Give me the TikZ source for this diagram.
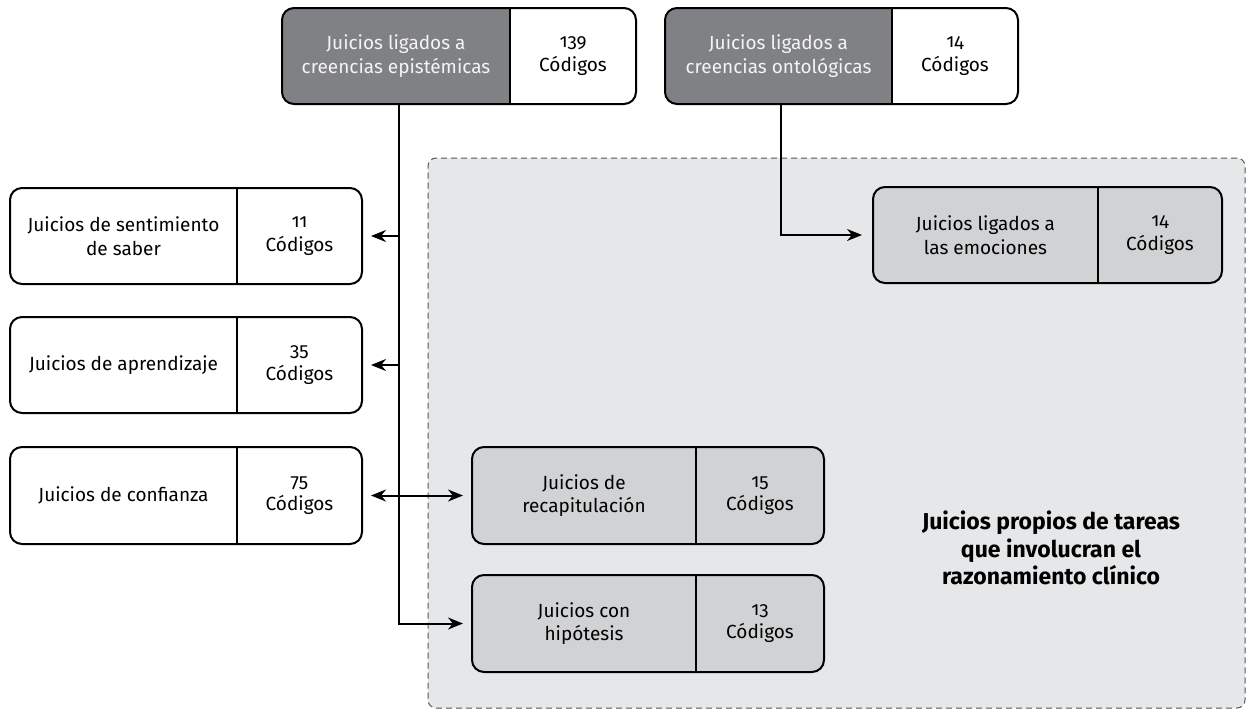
\documentclass[tikz,border=0pt]{standalone}
\usepackage{fontspec}
\setmainfont{Fira Sans}[Numbers=OldStyle]
\usetikzlibrary{arrows.meta,calc,fit}
\definecolor{darkpart}{HTML}{808184}
\definecolor{midpart}{HTML}{D1D2D4}
\definecolor{regionfill}{HTML}{E6E7E8}
\definecolor{regionline}{HTML}{555555}
\definecolor{lighttext}{HTML}{F4F4F4}
\tikzset{
  lpart/.style={fill=white},
  rpart/.style={fill=white},
  ltext/.style={text=black},
  outline/.style={draw=black, line width=2pt, rounded corners=12pt},
  divider/.style={draw=black, line width=1.8pt},
  txt/.style={font=\fontsize{19}{23.5}\selectfont, align=center, inner sep=0pt},
  conn/.style={draw=black, line width=2pt},
  tip/.style={-{Stealth[length=15pt,width=12pt]}},
  dtip/.style={{Stealth[length=15pt,width=12pt]}-{Stealth[length=15pt,width=12pt]}},
}
% #1 name, #2 x1, #3 y1, #4 xdivider, #5 x2, #6 y2, #7 left text, #8 right text
\newcommand\jbox[8]{%
  \begin{scope}
    \clip[rounded corners=12pt] (#2,#3) rectangle (#5,#6);
    \fill[lpart] (#2,#3) rectangle (#4,#6);
    \fill[rpart] (#4,#3) rectangle (#5,#6);
  \end{scope}
  \draw[divider] (#4,#3) -- (#4,#6);
  \node[fit={(#2,#3) (#5,#6)}, inner sep=0pt, outline] (#1) {};
  \node[txt, ltext] (#1L) at ($(#2,#3)!0.5!(#4,#6)$) {#7};
  \node[txt] (#1R) at ($(#4,#3)!0.5!(#5,#6)$) {#8};
}
\begin{document}
\begin{tikzpicture}[x=1pt,y=-1pt]
\useasboundingbox (0,0) rectangle (1246,710);
% region
\node[fit={(428,158) (1245,708)}, inner sep=0pt, fill=regionfill, draw=regionline,
      line width=1pt, dash pattern=on 6pt off 4pt, rounded corners=8pt] (region) {};
\node[font=\bfseries\fontsize{23}{27.5}\selectfont, align=center, inner sep=0pt]
  (regionlabel) at (1051,548) {Juicios propios de tareas\\que involucran el\\razonamiento clínico};
% top boxes
\tikzset{lpart/.style={fill=darkpart}, rpart/.style={fill=white}, ltext/.style={text=lighttext}}
\jbox{epi}{282}{8}{510}{636}{104}{Juicios ligados a\\creencias epistémicas}{139\\Códigos}
\jbox{onto}{665}{8}{892}{1018}{104}{Juicios ligados a\\creencias ontológicas}{14\\Códigos}
% left boxes
\tikzset{lpart/.style={fill=white}, rpart/.style={fill=white}, ltext/.style={text=black}}
\jbox{sen}{10}{188}{237}{362}{284}{Juicios de sentimiento\\de saber}{11\\Códigos}
\jbox{apr}{10}{317}{237}{362}{413}{Juicios de aprendizaje}{35\\Códigos}
\jbox{con}{10}{447}{237}{362}{544}{Juicios de confianza}{75\\Códigos}
% inner boxes
\tikzset{lpart/.style={fill=midpart}, rpart/.style={fill=midpart}, ltext/.style={text=black}}
\jbox{emo}{873}{187}{1098}{1222}{283}{Juicios ligados a\\las emociones}{14\\Códigos}
\jbox{rec}{472}{447}{696}{824}{544}{Juicios de\\recapitulación}{15\\Códigos}
\jbox{hip}{472}{575}{696}{824}{672}{Juicios con\\hipótesis}{13\\Códigos}
% connectors
\coordinate (trunk) at ([xshift=118pt]epi.south west);
\draw[conn, tip, shorten >=8pt] (trunk) |- (hip.west);
\draw[conn, tip, shorten >=8pt] (trunk |- sen.east) -- (sen.east);
\draw[conn, tip, shorten >=8pt] (trunk |- apr.east) -- (apr.east);
\draw[conn, dtip, shorten >=8pt, shorten <=8pt] (con.east) -- (con.east -| rec.west);
\coordinate (otrunk) at ([xshift=117pt]onto.south west);
\draw[conn, tip, shorten >=10pt] (otrunk) |- (emo.west);
\end{tikzpicture}
\end{document}
